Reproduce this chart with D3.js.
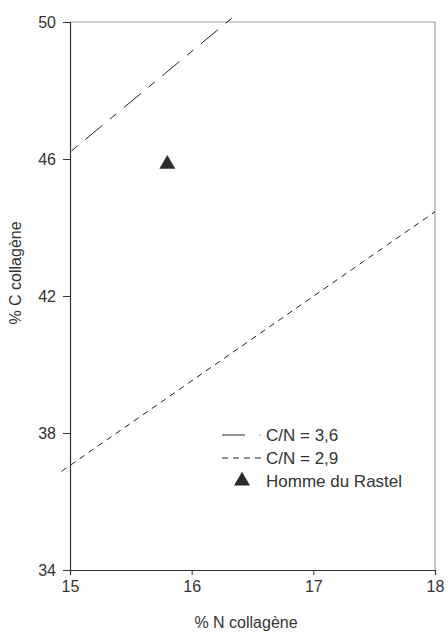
<!DOCTYPE html>
<html><head><meta charset="utf-8">
<script src="https://cdn.jsdelivr.net/npm/d3@7"></script>
<style>body{margin:0;background:#fff;} svg{display:block;}</style>
</head><body>
<script>
const xTicks = [15, 16, 17, 18];
const yTicks = [34, 38, 42, 46, 50];
const lineCN36 = [[15, 46.2], [16.36, 50.2]];
const lineCN29 = [[14.93, 36.88], [18, 44.46]];
const pointRastel = [[15.8, 45.85]];
const legendLabels = ["C/N = 3,6", "C/N = 2,9", "Homme du Rastel"];

const W = 448, H = 634;
const m = {left: 70, right: 13, top: 22, bottom: 64};
const svg = d3.select("body").append("svg").attr("width", W).attr("height", H);
const x = d3.scaleLinear().domain([15, 18]).range([m.left, W - m.right]);
const y = d3.scaleLinear().domain([34, 50]).range([H - m.bottom, m.top]);
const font = "Liberation Sans, Arial, sans-serif";

// frame top/right
svg.append("path")
  .attr("d", `M${x(15)},${y(50)}H${x(18)}V${y(34)}`)
  .attr("fill", "none").attr("stroke", "#a89e9e").attr("stroke-width", 1.2);

const line = d3.line().x(d => x(d[0])).y(d => y(d[1]));
svg.append("path").datum(lineCN36).attr("d", line)
  .attr("fill", "none").attr("stroke", "#222").attr("stroke-width", 1)
  .attr("stroke-dasharray", "8,10,22,10").attr("stroke-dashoffset", -2);
svg.append("path").datum(lineCN29).attr("d", line)
  .attr("fill", "none").attr("stroke", "#222").attr("stroke-width", 1)
  .attr("stroke-dasharray", "6,5");

const tri = d3.symbol().type(d3.symbolTriangle).size(110);
svg.selectAll(".pt").data(pointRastel).enter().append("path")
  .attr("d", tri).attr("fill", "#2b2b2b")
  .attr("transform", d => `translate(${x(d[0])},${y(d[1])})`);

const xAxis = svg.append("g").attr("transform", `translate(0,${y(34)})`)
  .call(d3.axisBottom(x).tickValues(xTicks).tickSize(5).tickPadding(6).tickFormat(d3.format("d")));
const yAxis = svg.append("g").attr("transform", `translate(${x(15)},0)`)
  .call(d3.axisLeft(y).tickValues(yTicks).tickSize(7).tickPadding(7).tickFormat(d3.format("d")));
[xAxis, yAxis].forEach(g => {
  g.select(".domain").attr("stroke", "#333").attr("stroke-width", 1.2);
  g.selectAll(".tick line").attr("stroke", "#333");
  g.selectAll("text").attr("font-family", font).attr("font-size", 16).attr("fill", "#333");
});

svg.append("text").attr("x", 246).attr("y", 628).attr("text-anchor", "middle")
  .attr("font-family", font).attr("font-size", 16).attr("fill", "#333").text("% N collagène");
svg.append("text").attr("transform", "translate(21,273) rotate(-90)").attr("text-anchor", "middle")
  .attr("font-family", font).attr("font-size", 16).attr("fill", "#333").text("% C collagène");

// legend
const lg = svg.append("g");
const ly = [435, 458, 481];
lg.append("line").attr("x1", 222).attr("x2", 245).attr("y1", ly[0]).attr("y2", ly[0]).attr("stroke", "#222");
lg.append("circle").attr("cx", 260).attr("cy", ly[0]).attr("r", 0.6).attr("fill", "#222");
lg.append("line").attr("x1", 222).attr("x2", 262).attr("y1", ly[1]).attr("y2", ly[1])
  .attr("stroke", "#222").attr("stroke-dasharray", "6,5");
lg.append("path").attr("d", tri).attr("fill", "#2b2b2b").attr("transform", `translate(242,${ly[2]})`);
lg.selectAll("text.l").data(legendLabels).enter().append("text")
  .attr("x", 266).attr("y", (d, i) => ly[i]).attr("dy", "0.35em")
  .attr("font-family", font).attr("font-size", 17).attr("fill", "#333").text(d => d);
</script>
</body></html>
